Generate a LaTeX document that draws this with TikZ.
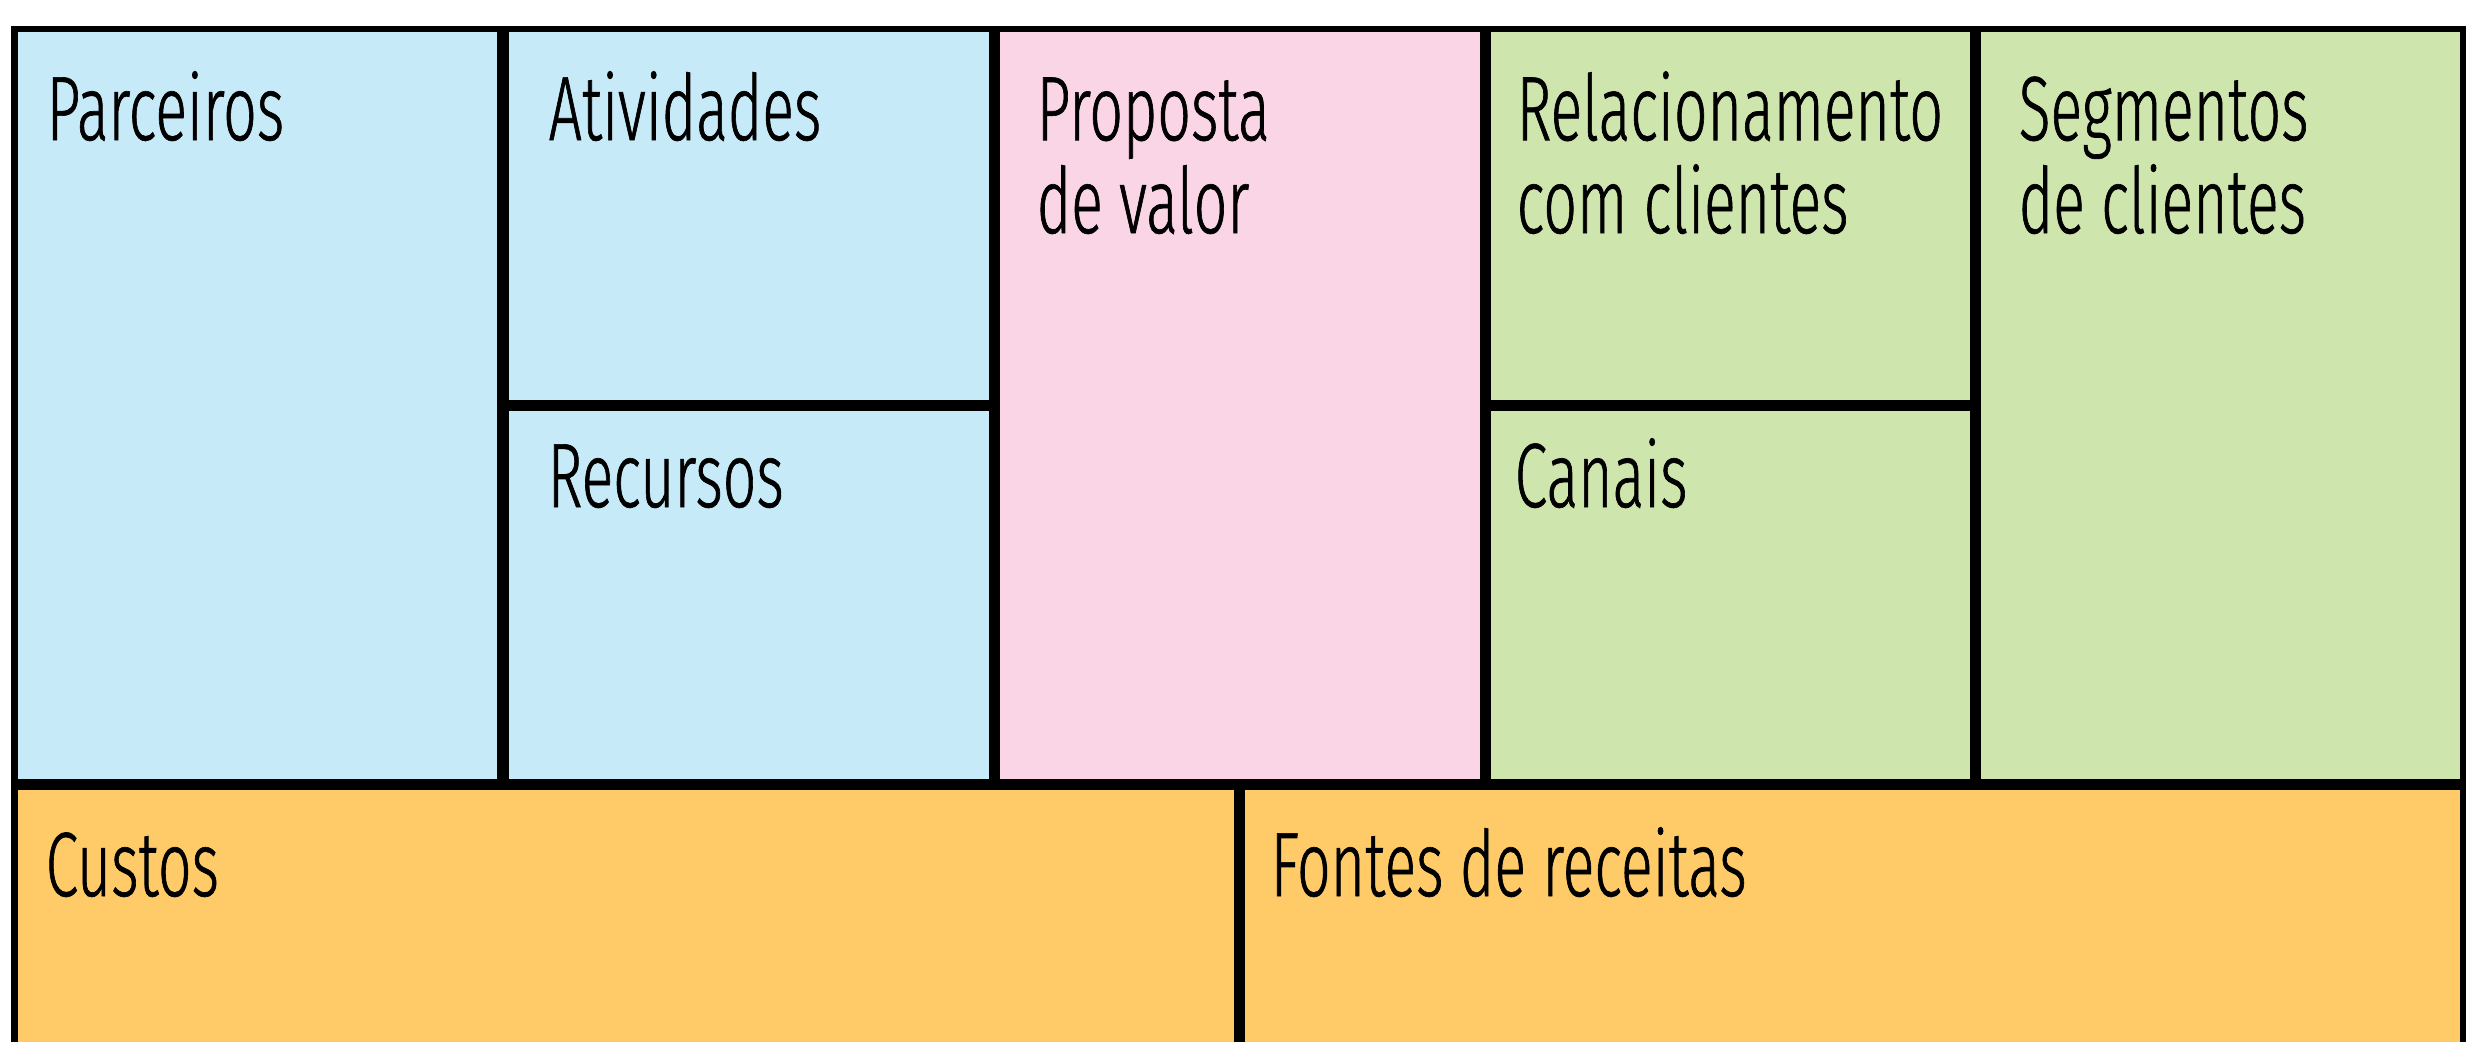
\documentclass[tikz,border=0pt]{standalone}
\usepackage{fontspec}
\setmainfont{Fira Sans}[UprightFont={* Light}, FakeStretch=0.645, FakeBold=0.7]
\definecolor{cblue}{RGB}{198,234,248}
\definecolor{cpink}{RGB}{250,213,230}
\definecolor{cgreen}{RGB}{207,229,174}
\definecolor{corange}{RGB}{254,203,104}
\begin{document}
\begin{tikzpicture}[x=0.01cm,y=-0.01cm,
  lbl/.style={anchor=base west, inner sep=0pt, align=left,
    font=\fontsize{26pt}{26.4pt}\selectfont, text=black},
  inner/.style={line width=0.11cm, black},
  outer/.style={line width=0.06cm, black}]
\useasboundingbox (0,0) rectangle (2474,1041);
\begin{scope}
\clip (0,0) rectangle (2474,1041);
% fills
\fill[cblue] (14.5,29) rectangle (994,784);
\fill[cpink] (994,29) rectangle (1485,784);
\fill[cgreen] (1485,29) rectangle (2462.5,784);
\fill[corange] (14.5,784) rectangle (2462.5,1100);
% outer frame (open at the bottom)
\draw[outer] (14.5,1100) -- (14.5,29) -- (2462.5,29) -- (2462.5,1100);
% inner lines
\draw[inner] (503,29) -- (503,784);
\draw[inner] (994,29) -- (994,784);
\draw[inner] (1485,29) -- (1485,784);
\draw[inner] (1975,29) -- (1975,784);
\draw[inner] (503,405) -- (994,405);
\draw[inner] (1485,405) -- (1975,405);
\draw[inner] (14.5,784) -- (2462.5,784);
\draw[inner] (1239,784) -- (1239,1100);
\end{scope}
% labels (base anchor of two-line labels is the last line's baseline)
\node[lbl] (parc) at (46,140) {Parceiros};
\node[lbl] (ativ) at (548,140) {Atividades};
\node[lbl] (recu) at (547,507) {Recursos};
\node[lbl] (prop) at (1036,233) {Proposta\\de valor};
\node[lbl] (rela) at (1516,233) {Relacionamento\\com clientes};
\node[lbl] (cana) at (1514,507) {Canais};
\node[lbl] (segm) at (2018,233) {Segmentos\\de clientes};
\node[lbl] (cust) at (45,896) {Custos};
\node[lbl] (font) at (1270,896) {Fontes de receitas};
\end{tikzpicture}
\end{document}
